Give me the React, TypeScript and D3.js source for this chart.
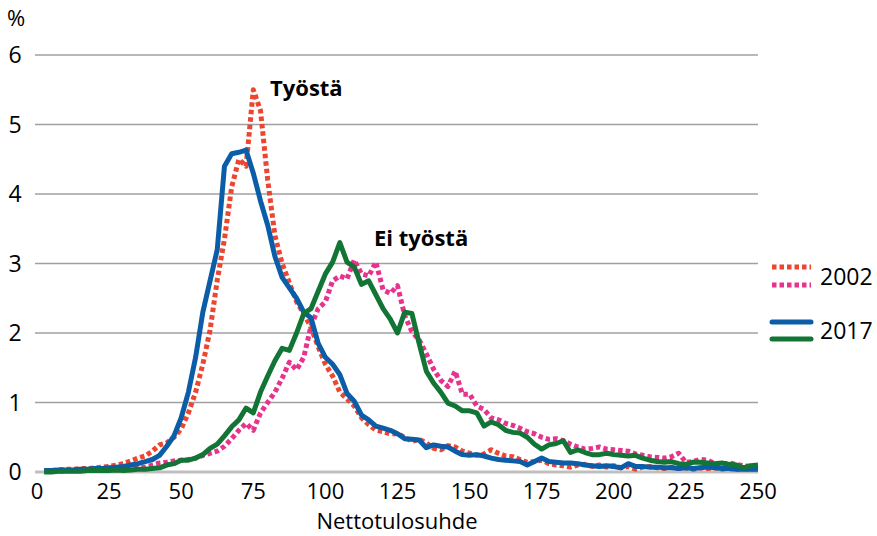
import { useEffect, useRef } from 'react';
import * as d3 from 'd3';

// x values (Nettotulosuhde), step 2.5
const xs = d3.range(1, 101).map(i => i * 2.5);

const tyosta2002 = [
  0.02, 0.02, 0.03, 0.04, 0.04, 0.05, 0.05, 0.06, 0.07, 0.08,
  0.1, 0.12, 0.16, 0.2, 0.23, 0.3, 0.39, 0.42, 0.5, 0.62,
  0.85, 1.15, 1.55, 2.04, 2.76, 3.35, 4.1, 4.5, 4.4, 5.5,
  5.2, 4.2, 3.4, 3.0, 2.72, 2.45, 2.28, 2.08, 1.8, 1.55,
  1.38, 1.15, 1.05, 0.95, 0.78, 0.68, 0.6, 0.58, 0.55, 0.55,
  0.5, 0.44, 0.47, 0.42, 0.34, 0.32, 0.38, 0.36, 0.3, 0.27,
  0.24, 0.26, 0.32, 0.27, 0.23, 0.22, 0.18, 0.14, 0.15, 0.17,
  0.12, 0.1, 0.09, 0.07, 0.1, 0.11, 0.08, 0.1, 0.07, 0.09,
  0.06, 0.08, 0.04, 0.07, 0.08, 0.06, 0.05, 0.07, 0.05, 0.06,
  0.04, 0.06, 0.05, 0.06, 0.04, 0.05, 0.04, 0.05, 0.04, 0.05,
];

const eiTyosta2002 = [
  0.01, 0.01, 0.01, 0.02, 0.02, 0.02, 0.03, 0.03, 0.03, 0.04,
  0.04, 0.04, 0.05, 0.06, 0.07, 0.1, 0.13, 0.14, 0.16, 0.17,
  0.18, 0.2, 0.24, 0.27, 0.3, 0.37, 0.48, 0.6, 0.7, 0.6,
  0.85, 1.0, 1.15, 1.35, 1.58, 1.47, 1.65, 2.1, 2.35, 2.45,
  2.75, 2.82, 2.78, 3.05, 2.85, 2.82, 3.02, 2.62, 2.57, 2.68,
  2.25, 2.02, 1.9, 1.7, 1.48, 1.32, 1.23, 1.45, 1.12, 1.12,
  0.95, 0.9, 0.78, 0.75, 0.7, 0.67, 0.63, 0.58, 0.55, 0.5,
  0.47, 0.48, 0.45, 0.4, 0.36, 0.33, 0.34, 0.36, 0.33, 0.32,
  0.31, 0.3, 0.26, 0.24, 0.22, 0.21, 0.2, 0.22, 0.27, 0.14,
  0.15, 0.18, 0.17, 0.12, 0.11, 0.13, 0.11, 0.09, 0.08, 0.08,
];

const tyosta2017 = [
  0.02, 0.02, 0.03, 0.03, 0.03, 0.04, 0.04, 0.05, 0.05, 0.06,
  0.07, 0.08, 0.1, 0.12, 0.15, 0.18, 0.24, 0.37, 0.52, 0.78,
  1.15, 1.65, 2.3, 2.75, 3.2, 4.4, 4.58, 4.6, 4.63, 4.3,
  3.9, 3.55, 3.1, 2.8, 2.65, 2.5, 2.3, 2.22, 1.85, 1.65,
  1.55, 1.4, 1.13, 1.02, 0.82, 0.75, 0.66, 0.63, 0.6, 0.55,
  0.48, 0.47, 0.46, 0.35, 0.39, 0.37, 0.36, 0.3, 0.25, 0.24,
  0.25, 0.23, 0.2, 0.18, 0.17, 0.16, 0.15, 0.1, 0.15, 0.2,
  0.15, 0.14, 0.13, 0.13, 0.12, 0.1, 0.09, 0.08, 0.09, 0.08,
  0.06, 0.12, 0.08, 0.08, 0.07, 0.07, 0.06, 0.06, 0.05, 0.06,
  0.05, 0.06, 0.07, 0.06, 0.05, 0.05, 0.04, 0.04, 0.04, 0.04,
];

const eiTyosta2017 = [
  0.0, 0.0, 0.01, 0.01, 0.01, 0.01, 0.02, 0.02, 0.02, 0.02,
  0.03, 0.02, 0.03, 0.04, 0.04, 0.05, 0.06, 0.1, 0.12, 0.17,
  0.17, 0.2, 0.25, 0.34, 0.4, 0.52, 0.65, 0.75, 0.92, 0.85,
  1.15, 1.38, 1.6, 1.78, 1.75, 2.0, 2.28, 2.35, 2.6, 2.85,
  3.02, 3.3, 3.02, 2.95, 2.7, 2.75, 2.55, 2.35, 2.2, 2.0,
  2.3, 2.28, 1.85, 1.45, 1.28, 1.15, 0.99, 0.95, 0.88, 0.88,
  0.85, 0.66, 0.72, 0.68, 0.6, 0.57, 0.56, 0.5, 0.4, 0.33,
  0.39, 0.41, 0.45, 0.28, 0.32, 0.28, 0.25, 0.25, 0.27, 0.25,
  0.24, 0.23, 0.24, 0.2, 0.17, 0.15, 0.14, 0.15, 0.12, 0.11,
  0.14, 0.14, 0.13, 0.12, 0.13, 0.11, 0.1, 0.06, 0.09, 0.1,
];

const xTicks = [0, 25, 50, 75, 100, 125, 150, 175, 200, 225, 250];
const yTicks = [0, 1, 2, 3, 4, 5, 6];

const series = [
  { values: tyosta2002, color: '#EC4530', dash: '4.5,3' },
  { values: eiTyosta2002, color: '#E7338E', dash: '4.5,3' },
  { values: tyosta2017, color: '#0B5DA7', dash: null },
  { values: eiTyosta2017, color: '#127535', dash: null },
];

const FONT = '"Open Sans", sans-serif';

export default function App() {
  const svgRef = useRef<SVGSVGElement>(null);

  useEffect(() => {
    if (!svgRef.current) return;
    const svg = d3.select(svgRef.current);
    svg.selectAll('*').remove();

    const x = d3.scaleLinear().domain([0, 250]).range([37, 758]);
    const y = d3.scaleLinear().domain([0, 6]).range([472, 55]);

    // Gridlines
    svg.append('g')
      .selectAll('line')
      .data(yTicks.filter(d => d > 0))
      .enter()
      .append('line')
      .attr('x1', 35).attr('x2', 758)
      .attr('y1', d => y(d)).attr('y2', d => y(d))
      .attr('stroke', '#A0A0A0')
      .attr('stroke-width', 1.5);

    // Zero line
    svg.append('line')
      .attr('x1', 35).attr('x2', 758)
      .attr('y1', y(0)).attr('y2', y(0))
      .attr('stroke', '#BFBFBF')
      .attr('stroke-width', 3);

    // Y tick labels
    svg.append('g')
      .selectAll('text')
      .data(yTicks)
      .enter()
      .append('text')
      .attr('x', 15)
      .attr('y', d => y(d))
      .attr('dy', '0.36em')
      .attr('text-anchor', 'middle')
      .style('font-family', FONT)
      .style('font-size', '23px')
      .attr('fill', '#000')
      .text(d => d);

    svg.append('text')
      .attr('x', 7).attr('y', 26)
      .style('font-family', FONT)
      .style('font-size', '22px')
      .text('%');

    // X tick labels
    svg.append('g')
      .selectAll('text')
      .data(xTicks)
      .enter()
      .append('text')
      .attr('x', d => x(d))
      .attr('y', 499)
      .attr('text-anchor', 'middle')
      .style('font-family', FONT)
      .style('font-size', '22px')
      .text(d => d);

    svg.append('text')
      .attr('x', 397).attr('y', 529)
      .attr('text-anchor', 'middle')
      .style('font-family', FONT)
      .style('font-size', '22px')
      .text('Nettotulosuhde');

    // Lines
    const line = d3.line<number>()
      .x((_, i) => x(xs[i]))
      .y(d => y(d));

    series.forEach(s => {
      const p = svg.append('path')
        .datum(s.values)
        .attr('fill', 'none')
        .attr('stroke', s.color)
        .attr('stroke-width', 5)
        .attr('stroke-linejoin', 'round')
        .attr('d', line);
      if (s.dash) p.attr('stroke-dasharray', s.dash);
    });

    // Annotations
    svg.append('text')
      .attr('x', 270).attr('y', 96)
      .style('font-family', FONT)
      .style('font-size', '22px')
      .style('font-weight', 'bold')
      .text('Työstä');

    svg.append('text')
      .attr('x', 374).attr('y', 246)
      .style('font-family', FONT)
      .style('font-size', '22px')
      .style('font-weight', 'bold')
      .text('Ei työstä');

    // Legend
    const legend = [
      { y: 267, s: series[0] },
      { y: 285, s: series[1] },
      { y: 322, s: series[2] },
      { y: 339, s: series[3] },
    ];
    legend.forEach(item => {
      const l = svg.append('line')
        .attr('x1', 772).attr('x2', 811)
        .attr('y1', item.y).attr('y2', item.y)
        .attr('stroke', item.s.color)
        .attr('stroke-width', 5);
      if (item.s.dash) l.attr('stroke-dasharray', item.s.dash);
      else l.attr('stroke-linecap', 'round');
    });

    [{ y: 277, label: '2002' }, { y: 331, label: '2017' }].forEach(t => {
      svg.append('text')
        .attr('x', 820).attr('y', t.y)
        .attr('dy', '0.36em')
        .style('font-family', FONT)
        .style('font-size', '23px')
        .text(t.label);
    });
  }, []);

  return (
    <svg
      ref={svgRef}
      width={877}
      height={536}
      style={{ position: 'absolute', left: 0, top: 0, background: '#fff' }}
    />
  );
}
